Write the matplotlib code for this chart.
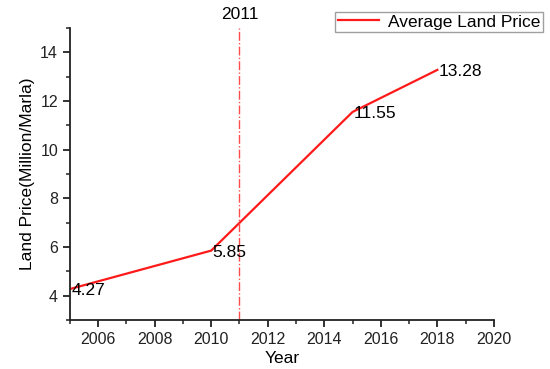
import matplotlib.pyplot as plt
from matplotlib.ticker import MultipleLocator

plt.rcParams['font.family'] = ['Liberation Sans', 'DejaVu Sans']

# 数据
years = [2005, 2010, 2015, 2018]
prices = [4.27, 5.85, 11.55, 13.28]
price_labels = ['4.27', '5.85', '11.55', '13.28']
marker_year = 2011

fig = plt.figure(figsize=(5.5, 3.69), dpi=100)
ax = fig.add_axes([0.127, 0.133, 0.771, 0.791])

ax.plot(years, prices, color='#ff1a1a', linewidth=1.6, label='Average Land Price')
ax.axvline(marker_year, color='#ff4d4d', linestyle='-.', linewidth=1.0)
ax.text(marker_year, 15.25, str(marker_year), ha='center', va='bottom', fontsize=12.5)

# 数据标签
for x, y, s in zip(years, prices, price_labels):
    ax.text(x + 0.05, y - 0.08, s, ha='left', va='center', fontsize=12.5)

ax.set_xlim(2005, 2020)
ax.set_ylim(3, 15)
ax.xaxis.set_minor_locator(MultipleLocator(1))
ax.yaxis.set_minor_locator(MultipleLocator(1))
ax.set_xticks(range(2006, 2021, 2))
ax.set_yticks(range(4, 15, 2))

ax.set_xlabel('Year', fontsize=12.5, labelpad=3)
ax.set_ylabel('Land Price(Million/Marla)', fontsize=12.5, labelpad=4)

for side in ['top', 'right']:
    ax.spines[side].set_visible(False)
for side in ['left', 'bottom']:
    ax.spines[side].set_linewidth(1.3)
    ax.spines[side].set_color('#222222')

ax.tick_params(which='major', direction='out', length=5, width=1.3, labelsize=11.5, colors='#222222')
ax.tick_params(which='minor', direction='out', length=3, width=1.1, colors='#222222')

leg = fig.legend(loc='upper right', bbox_to_anchor=(0.987, 0.968), fontsize=12.5,
                 frameon=True, fancybox=False, handlelength=2.4, borderpad=0.15,
                 handletextpad=0.5, borderaxespad=0)
leg.get_frame().set_edgecolor('#888888')
leg.get_frame().set_linewidth(1.0)

fig.savefig('out.png', dpi=100)
